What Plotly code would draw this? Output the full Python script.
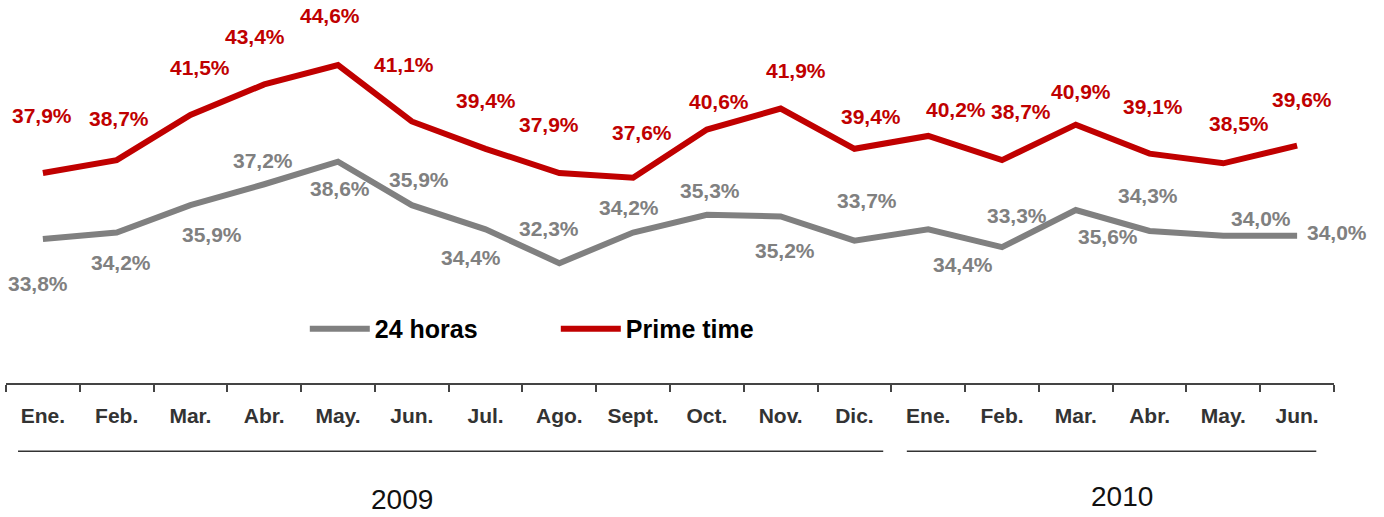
import plotly.graph_objects as go

# ---- data ----
months = ["Ene.", "Feb.", "Mar.", "Abr.", "May.", "Jun.", "Jul.", "Ago.", "Sept.",
          "Oct.", "Nov.", "Dic.", "Ene.", "Feb.", "Mar.", "Abr.", "May.", "Jun."]
years = ["2009", "2010"]
horas24 = [33.8, 34.2, 35.9, 37.2, 38.6, 35.9, 34.4, 32.3, 34.2, 35.3, 35.2, 33.7,
           34.4, 33.3, 35.6, 34.3, 34.0, 34.0]
prime = [37.9, 38.7, 41.5, 43.4, 44.6, 41.1, 39.4, 37.9, 37.6, 40.6, 41.9, 39.4,
         40.2, 38.7, 40.9, 39.1, 38.5, 39.6]

# ---- label offsets (pixels) ----
prime_dx = [-1, 2, 10, -9, -8, -8, 0, -10, 9, 12, 15, 17, 28, 19, 5, 3, 16, 5]
prime_dy = [57, 42, 48, 48, 50, 57, 48, 48, 45, 28, 38, 32, 26, 49, 33, 47, 40, 46]
h24_dx = [-5, 4, 22, -1, 2, 7, -15, -10, -4, 3, 4, 13, 35, 15, 32, -2, 38, 40]
h24_dy = [-44, -30, -29, 24, -27, 26, -28, 35, 25, 24, -34, 40, -35, 32, -26, 35, 17, 3]

RED = "#C00000"
GREY = "#808080"
FONT = "Liberation Sans, Arial, sans-serif"

x = list(range(len(months)))

fig = go.Figure()
fig.add_trace(go.Scatter(x=x, y=horas24, mode="lines", name="24 horas",
                         line=dict(color=GREY, width=6)))
fig.add_trace(go.Scatter(x=x, y=prime, mode="lines", name="Prime time",
                         line=dict(color=RED, width=6)))

def fmt(v):
    return f"{v:.1f}%".replace(".", ",")

annotations = []
for vals, dxs, dys, col in [(prime, prime_dx, prime_dy, RED), (horas24, h24_dx, h24_dy, GREY)]:
    for i, v in enumerate(vals):
        annotations.append(dict(x=i, y=v, xref="x", yref="y", text=fmt(v),
                                showarrow=False, xshift=dxs[i], yshift=dys[i],
                                xanchor="center", yanchor="middle",
                                font=dict(family=FONT, size=21, color=col, weight="bold")))

# year labels
annotations.append(dict(x=4.87, y=-0.305, xref="x", yref="paper", text=years[0], showarrow=False,
                        xanchor="center", yanchor="middle",
                        font=dict(family=FONT, size=28, color="#111111")))
annotations.append(dict(x=14.63, y=-0.297, xref="x", yref="paper", text=years[1], showarrow=False,
                        xanchor="center", yanchor="middle",
                        font=dict(family=FONT, size=28, color="#111111")))

shapes = [
    dict(type="line", xref="x", yref="paper", x0=-0.337, x1=11.39, y0=-0.178, y1=-0.178,
         line=dict(color="#333333", width=1.5)),
    dict(type="line", xref="x", yref="paper", x0=11.71, x1=17.26, y0=-0.178, y1=-0.178,
         line=dict(color="#333333", width=1.5)),
]

fig.update_layout(
    width=1384, height=517,
    margin=dict(l=6, r=50, t=0, b=134),
    paper_bgcolor="white", plot_bgcolor="white",
    showlegend=True,
    legend=dict(orientation="h", x=0.225, y=0.141, xanchor="left", yanchor="middle",
                xref="paper", yref="paper",
                font=dict(family=FONT, size=25, color="#000000", weight="bold"),
                bgcolor="rgba(0,0,0,0)", entrywidth=176, itemwidth=60),
    annotations=annotations,
    shapes=shapes,
    xaxis=dict(range=[-0.5, 17.5], showgrid=False, zeroline=False,
               showline=True, linecolor="#444444", linewidth=2,
               tickmode="array", tickvals=x, ticktext=months, ticks="",
               tickfont=dict(family=FONT, size=21, color="#333333", weight="bold"),
               ticklabelstandoff=13,
               minor=dict(tickmode="array", tickvals=[i - 0.5 for i in range(len(months) + 1)],
                          ticks="outside", ticklen=7, tickwidth=2, tickcolor="#444444",
                          showgrid=False)),
    yaxis=dict(range=[24.86, 48.64], visible=False, showgrid=False, zeroline=False),
)

fig.write_html("out.html", config={"displayModeBar": False},
               post_script="document.body.style.margin='0';document.body.style.overflow='hidden';")
